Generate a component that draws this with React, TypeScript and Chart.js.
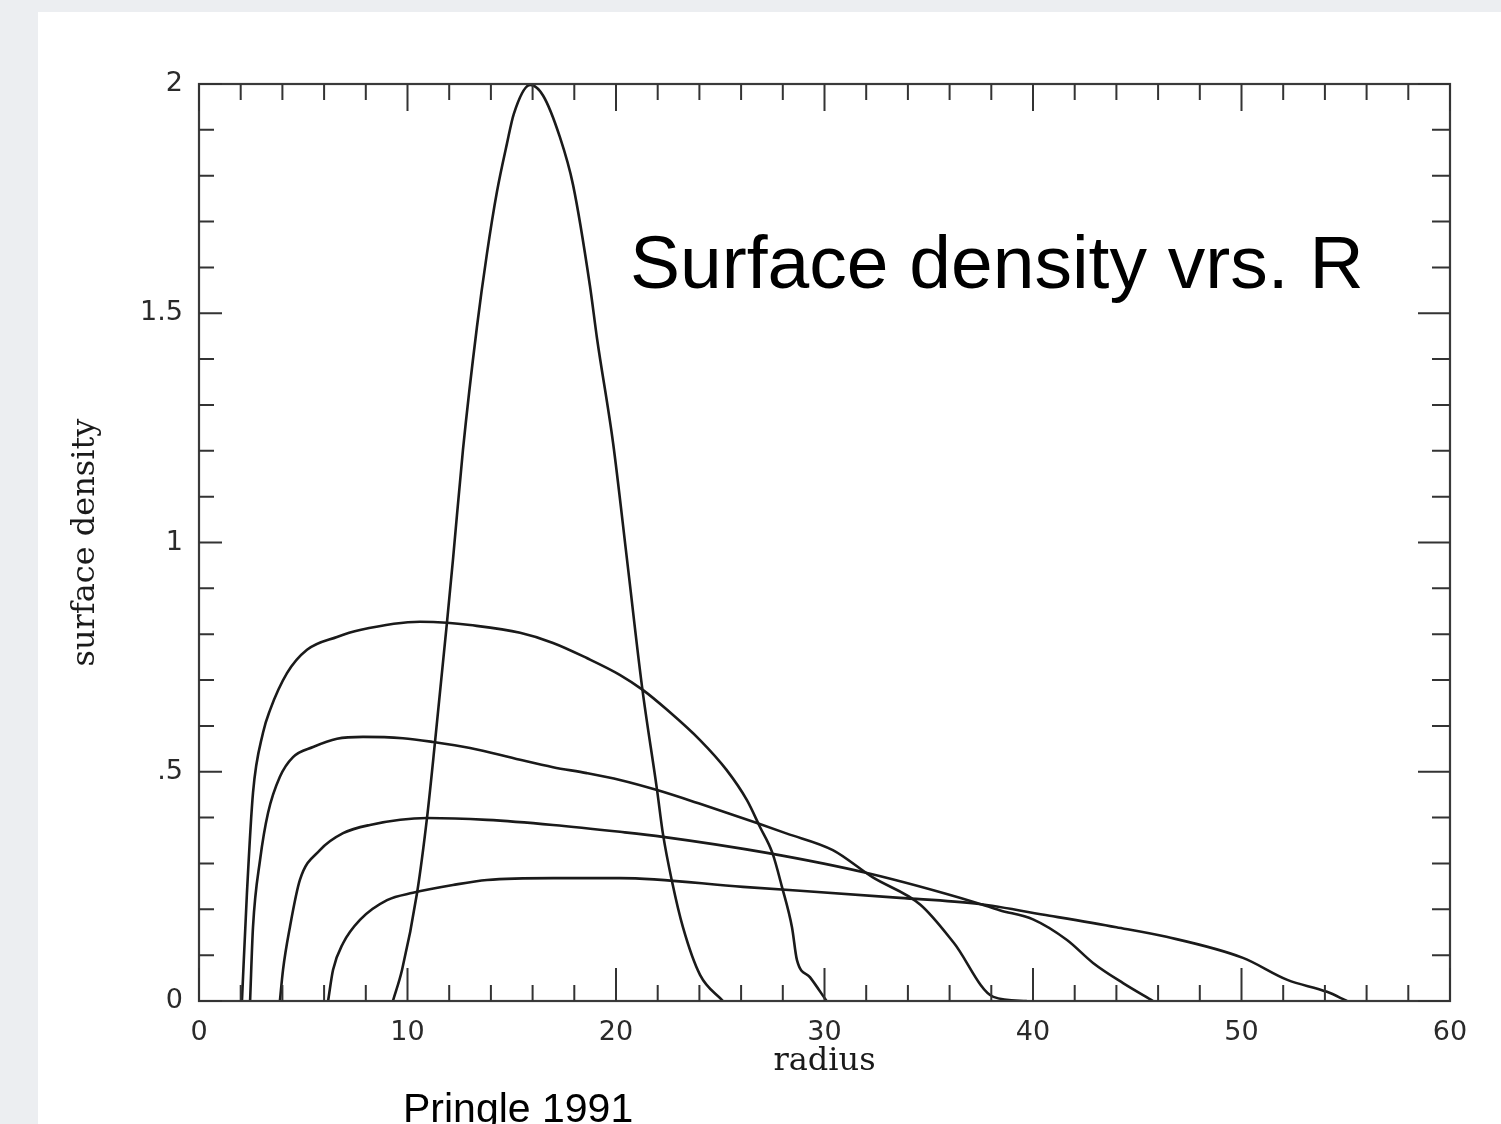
import { useEffect, useRef } from "react";
import { Chart, registerables } from "chart.js";

Chart.register(...registerables);

// ---- Data ----
// Curve A: narrow initial ring (peak 2.0)
const radiusA = [9.3, 9.74, 10.46, 10.94, 11.32, 11.89, 12.18, 12.66, 13.33, 13.81, 14.29, 14.77, 15.1, 15.88, 16.5, 17.31, 17.94, 18.75, 19.09, 19.86, 20.53, 21.25, 21.97, 22.25, 22.69, 23.21, 24.03, 25.13];
const densityA = [0, 0.068, 0.236, 0.401, 0.565, 0.824, 0.962, 1.202, 1.47, 1.63, 1.765, 1.87, 1.935, 1.998, 1.975, 1.884, 1.78, 1.56, 1.445, 1.217, 0.962, 0.685, 0.46, 0.365, 0.26, 0.161, 0.057, 0];

// Curve B: peak ~0.83
const radiusB = [2.06, 2.3, 2.59, 3.07, 3.41, 4.22, 5.18, 6.62, 7.72, 10.6, 11.89, 13.0, 15.4, 16.98, 18.6, 20.2, 21.3, 22.45, 24.03, 25.3, 26.28, 26.9, 27.5, 27.96, 28.44, 28.68, 29.3, 30.1];
const densityB = [0, 0.236, 0.454, 0.585, 0.635, 0.715, 0.766, 0.794, 0.809, 0.827, 0.825, 0.82, 0.803, 0.781, 0.748, 0.711, 0.678, 0.635, 0.569, 0.504, 0.438, 0.38, 0.323, 0.249, 0.161, 0.089, 0.052, 0];

// Curve C: peak ~0.58
const radiusC = [2.45, 2.59, 2.93, 3.31, 3.88, 4.51, 5.47, 6.62, 7.87, 9.78, 11.22, 13.0, 15.4, 16.98, 18.6, 20.19, 21.97, 24.03, 26.76, 28.2, 30.4, 32.3, 34.6, 36.2, 38.1, 39.7];
const densityC = [0, 0.161, 0.308, 0.41, 0.489, 0.532, 0.554, 0.572, 0.576, 0.573, 0.565, 0.552, 0.526, 0.51, 0.497, 0.482, 0.46, 0.43, 0.388, 0.365, 0.329, 0.27, 0.21, 0.127, 0.009, 0];

// Curve D: peak ~0.40
const radiusD = [3.88, 4.03, 4.36, 4.84, 5.8, 6.91, 8.2, 10.94, 13.81, 16.98, 20.19, 22.25, 27.24, 32.04, 37.31, 38.4, 40.0, 41.63, 42.88, 44.32, 45.76];
const densityD = [0, 0.068, 0.161, 0.264, 0.329, 0.366, 0.384, 0.399, 0.395, 0.384, 0.369, 0.358, 0.323, 0.279, 0.214, 0.198, 0.178, 0.133, 0.083, 0.039, 0];

// Curve E: peak ~0.27
const radiusE = [6.19, 6.43, 6.91, 7.72, 9.02, 10.26, 12.18, 13.81, 16.98, 20.19, 26.09, 33.62, 37.31, 40.8, 44.0, 46.4, 50.07, 52.2, 54.1, 55.06];
const densityE = [0, 0.068, 0.126, 0.177, 0.22, 0.236, 0.253, 0.264, 0.268, 0.268, 0.249, 0.225, 0.212, 0.186, 0.161, 0.14, 0.094, 0.046, 0.02, 0];

// Axis ticks
const xTickValues = [0, 10, 20, 30, 40, 50, 60];
const xTickLabels = ["0", "10", "20", "30", "40", "50", "60"];
const yTickValues = [0, 0.5, 1, 1.5, 2];
const yTickLabels = ["0", ".5", "1", "1.5", "2"];
const xMinorStep = 2;
const yMinorStep = 0.1;

const xTitle = "radius";
const yTitle = "surface density";
const chartTitle = "Surface density vrs. R";
const sourceNote = "Pringle 1991";

const curves = [
  { x: radiusA, y: densityA },
  { x: radiusB, y: densityB },
  { x: radiusC, y: densityC },
  { x: radiusD, y: densityD },
  { x: radiusE, y: densityE },
];

const decorPlugin = {
  id: "decor",
  beforeDraw(chart: any) {
    const { ctx, width, height } = chart;
    ctx.save();
    ctx.fillStyle = "#eceef1";
    ctx.fillRect(0, 0, width, height);
    ctx.fillStyle = "#ffffff";
    ctx.fillRect(38, 12, width - 38, height - 12);
    ctx.restore();
  },
  afterDraw(chart: any) {
    const { ctx, chartArea } = chart;
    const xs = chart.scales.x;
    const ys = chart.scales.y;
    const { left, right, top, bottom } = chartArea;
    ctx.save();
    // frame
    ctx.strokeStyle = "#3a3a3a";
    ctx.lineWidth = 2.2;
    ctx.strokeRect(left, top, right - left, bottom - top);

    // inside ticks
    ctx.strokeStyle = "#333333";
    ctx.lineWidth = 2;
    ctx.beginPath();
    for (let v = xs.min; v <= xs.max + 1e-9; v += xMinorStep) {
      const major = xTickValues.some((t) => Math.abs(t - v) < 1e-6);
      const len = major ? 33 : 16;
      const px = xs.getPixelForValue(v);
      ctx.moveTo(px, bottom);
      ctx.lineTo(px, bottom - len);
      ctx.moveTo(px, top);
      ctx.lineTo(px, top + (major ? 27 : 16));
    }
    for (let i = 0; i <= Math.round((ys.max - ys.min) / yMinorStep); i++) {
      const v = ys.min + i * yMinorStep;
      const major = yTickValues.some((t) => Math.abs(t - v) < 1e-6);
      const py = ys.getPixelForValue(v);
      ctx.moveTo(left, py);
      ctx.lineTo(left + (major ? 23 : 15), py);
      ctx.moveTo(right, py);
      ctx.lineTo(right - (major ? 32 : 18), py);
    }
    ctx.stroke();

    // annotations
    ctx.fillStyle = "#000000";
    ctx.textBaseline = "alphabetic";
    ctx.textAlign = "left";
    ctx.font = "75px 'Liberation Sans', Arial, sans-serif";
    ctx.fillText(chartTitle, 630, 288);
    ctx.font = "41px 'Liberation Sans', Arial, sans-serif";
    ctx.fillText(sourceNote, 403, 1122);
    ctx.restore();
  },
};

export default function App() {
  const canvasRef = useRef<HTMLCanvasElement | null>(null);

  useEffect(() => {
    const canvas = canvasRef.current;
    if (!canvas) return;
    const datasets = curves.map((c) => ({
      data: c.x.map((x, i) => ({ x, y: c.y[i] })),
      borderColor: "#1a1a1a",
      borderWidth: 2.6,
      pointRadius: 0,
      fill: false,
      cubicInterpolationMode: "monotone" as const,
    }));
    const chart = new Chart(canvas, {
      type: "line",
      data: { datasets },
      plugins: [decorPlugin],
      options: {
        responsive: false,
        animation: false,
        devicePixelRatio: 1,
        layout: { padding: { left: 0, right: 51, top: 84, bottom: 0 } },
        plugins: { legend: { display: false }, tooltip: { enabled: false } },
        scales: {
          x: {
            type: "linear",
            position: "bottom",
            min: 0,
            max: 60,
            grid: { display: false, drawTicks: false },
            border: { display: false },
            afterBuildTicks: (s: any) => {
              s.ticks = xTickValues.map((v) => ({ value: v }));
            },
            afterFit: (s: any) => {
              s.height = 123;
            },
            ticks: {
              autoSkip: false,
              maxRotation: 0,
              padding: 16,
              color: "#2a2a2a",
              font: { family: "'DejaVu Sans'", size: 27 },
              callback: (v: any) => {
                const i = xTickValues.indexOf(Number(v));
                return i >= 0 ? xTickLabels[i] : "";
              },
            },
            title: {
              display: true,
              text: xTitle,
              color: "#1a1a1a",
              font: { family: "'DejaVu Serif'", size: 32 },
              padding: { top: 0, bottom: 43 },
            },
          },
          y: {
            type: "linear",
            position: "left",
            min: 0,
            max: 2,
            grid: { display: false, drawTicks: false },
            border: { display: false },
            afterBuildTicks: (s: any) => {
              s.ticks = yTickValues.map((v) => ({ value: v }));
            },
            afterFit: (s: any) => {
              s.width = 199;
            },
            ticks: {
              autoSkip: false,
              padding: 16,
              color: "#2a2a2a",
              font: { family: "'DejaVu Sans'", size: 27 },
              callback: (v: any) => {
                const i = yTickValues.findIndex((t) => Math.abs(t - Number(v)) < 1e-9);
                return i >= 0 ? yTickLabels[i] : "";
              },
            },
            title: {
              display: true,
              text: yTitle,
              color: "#1a1a1a",
              font: { family: "'DejaVu Serif'", size: 32 },
              padding: { top: 66, bottom: 0 },
            },
          },
        },
      },
    });
    return () => chart.destroy();
  }, []);

  return (
    <div style={{ position: "fixed", left: 0, top: 0, width: 1501, height: 1124, overflow: "hidden" }}>
      <canvas ref={canvasRef} width={1501} height={1124} style={{ display: "block" }} />
    </div>
  );
}
